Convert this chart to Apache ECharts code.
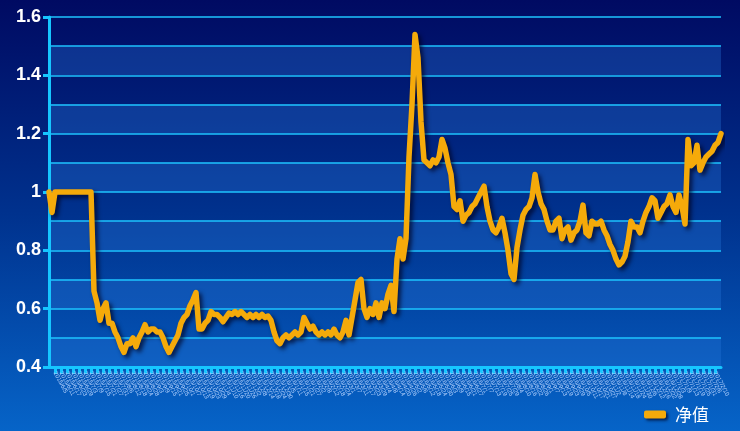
<!DOCTYPE html>
<html><head><meta charset="utf-8">
<script src="https://cdn.jsdelivr.net/npm/echarts@6/dist/echarts.min.js"></script>
<style>html,body{margin:0;padding:0;}#c{width:740px;height:431px;}</style>
</head><body><div id="c"></div>
<script>
var seriesName = '净值';
var navValues = [
1.00,0.93,1.00,1.00,1.00,1.00,1.00,1.00,1.00,1.00,1.00,1.00,1.00,1.00,1.00,
0.66,0.62,0.56,0.60,0.62,0.55,0.55,0.52,0.50,0.47,0.45,0.48,0.48,0.50,0.47,
0.50,0.52,0.545,0.52,0.53,0.53,0.52,0.52,0.50,0.47,0.45,0.47,0.49,0.51,0.55,
0.57,0.58,0.61,0.63,0.655,0.53,0.53,0.55,0.56,0.59,0.58,0.58,0.57,0.555,0.57,
0.585,0.58,0.59,0.58,0.59,0.58,0.57,0.58,0.57,0.58,0.57,0.58,0.57,0.575,0.56,
0.52,0.49,0.48,0.50,0.51,0.50,0.51,0.52,0.51,0.52,0.57,0.55,0.53,0.54,0.52,
0.51,0.52,0.51,0.52,0.51,0.53,0.51,0.50,0.52,0.56,0.51,0.57,0.63,0.69,0.70,
0.60,0.57,0.60,0.58,0.62,0.57,0.62,0.60,0.65,0.68,0.59,0.77,0.84,0.77,0.84,
1.12,1.30,1.54,1.46,1.24,1.11,1.10,1.09,1.11,1.10,1.12,1.18,1.15,1.10,1.06,
0.95,0.94,0.97,0.90,0.92,0.93,0.95,0.96,0.98,1.00,1.02,0.95,0.90,0.87,0.86,
0.88,0.91,0.86,0.80,0.72,0.70,0.81,0.87,0.92,0.94,0.95,0.98,1.06,1.00,0.96,
0.94,0.90,0.87,0.87,0.90,0.91,0.84,0.87,0.88,0.835,0.86,0.87,0.90,0.955,0.86,
0.85,0.90,0.89,0.89,0.90,0.87,0.85,0.82,0.80,0.77,0.75,0.76,0.78,0.83,0.90,
0.88,0.88,0.86,0.90,0.93,0.95,0.98,0.97,0.91,0.93,0.95,0.96,0.99,0.95,0.93,
0.99,0.95,0.89,1.18,1.09,1.10,1.16,1.075,1.10,1.12,1.13,1.14,1.16,1.17,1.20
];
var yMin = 0.4, yMax = 1.6;
var yLabelStep = 0.2, yBandStep = 0.1;

// trading-day date labels (unreadable in the reference; weekdays in sequence)
var dateLabels = [];
(function(){
  var d = new Date(2015, 5, 1);
  while (dateLabels.length < navValues.length) {
    var wd = d.getDay();
    if (wd !== 0 && wd !== 6) dateLabels.push(d.getFullYear() + '/' + (d.getMonth()+1) + '/' + d.getDate());
    d.setDate(d.getDate() + 2);
  }
})();

var chart = echarts.init(document.getElementById('c'));
chart.setOption({
  animation: false,
  backgroundColor: new echarts.graphic.LinearGradient(0,0,0,1,[
    {offset:0,color:'#000a62'},{offset:0.5,color:'#00328e'},{offset:1,color:'#0664c8'}]),
  grid: {left: 49, right: 19, top: 17, bottom: 64},
  legend: {
    right: 26, bottom: 3, itemWidth: 22, itemHeight: 8, itemGap: 8,
    icon: 'roundRect',
    itemStyle: {shadowColor: 'rgba(0,0,30,0.7)', shadowBlur: 3, shadowOffsetX: 2, shadowOffsetY: 2},
    textStyle: {color: '#ffffff', fontSize: 17, fontFamily: 'Noto Sans CJK SC', padding: [0,0,0,4]},
    data: [seriesName]
  },
  xAxis: {
    type: 'category', boundaryGap: false, data: dateLabels,
    axisLine: {lineStyle: {color: '#16c6ff', width: 3}},
    axisTick: {show: true, interval: 1, length: 7, lineStyle: {color: '#16c6ff', width: 3}},
    axisLabel: {interval: 1, rotate: -62, fontSize: 6, color: '#b8d4ff', margin: 5, fontFamily: 'Liberation Sans'},
    splitLine: {show: false}
  },
  yAxis: [{
    type: 'value', min: yMin, max: yMax, interval: yBandStep,
    axisLine: {show: false}, axisTick: {show: false}, axisLabel: {show: false},
    splitLine: {lineStyle: {color: '#1ec4ff', width: 1.5}},
    splitArea: {show: true, areaStyle: {color: ['rgba(40,120,220,0.32)', 'rgba(0,0,0,0)']}}
  },{
    type: 'value', min: yMin, max: yMax, interval: yLabelStep, position: 'left',
    axisLine: {show: true, lineStyle: {color: '#16c6ff', width: 3}},
    axisTick: {show: true, length: 6, lineStyle: {color: '#16c6ff', width: 3}},
    axisLabel: {color: '#ffffff', fontSize: 18, fontWeight: 'bold', fontFamily: 'Liberation Sans', margin: 8,
      formatter: function(v){ return String(parseFloat(v.toFixed(1))); }},
    splitLine: {show: false}
  }],
  series: [{
    name: seriesName, type: 'line', yAxisIndex: 1, data: navValues,
    showSymbol: false, symbol: 'none',
    lineStyle: {color: '#f5aa0a', width: 5.5, cap: 'round', join: 'round', shadowColor: 'rgba(0,0,30,0.7)', shadowBlur: 4, shadowOffsetX: 3, shadowOffsetY: 3},
    itemStyle: {color: '#f5aa0a'}
  }]
});
</script></body></html>
